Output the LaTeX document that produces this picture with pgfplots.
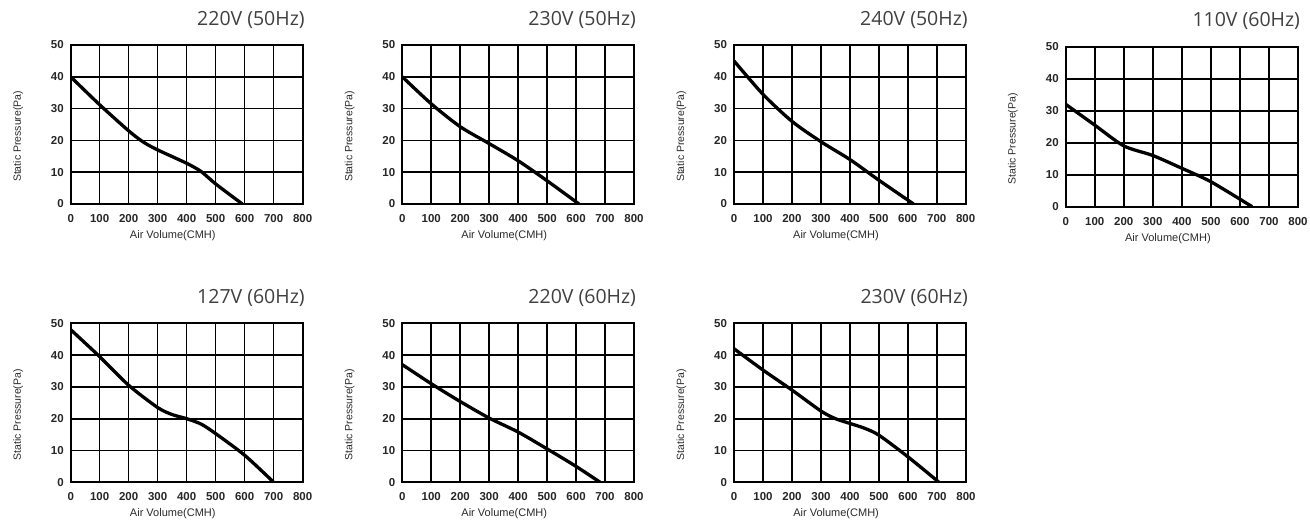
\documentclass[border=0pt]{standalone}
\usepackage{fontspec}
\setmainfont{Liberation Sans}
\newfontfamily\titlefont{Open Sans}
\usepackage{pgfplots}
\pgfplotsset{compat=1.18}
\definecolor{titlegray}{HTML}{404040}
\definecolor{labgray}{HTML}{2a2a2a}
\pgfplotsset{
  fanplot/.style={
    scale only axis,
    width=232pt, height=159pt,
    anchor=south west,
    xmin=0, xmax=800, ymin=0, ymax=50,
    xtick={0,100,...,800}, ytick={0,10,...,50},
    grid=major,
    major grid style={black, line width=1.6pt},
    axis line style={black, line width=1.7pt},
    major tick length=0pt,
    /pgf/number format/assume math mode=true,
    ticklabel style={font=\fontsize{11.5}{11.5}\selectfont\bfseries, text=black!85},
    yticklabel style={xshift=-3.5pt},
    xticklabel style={yshift=-7pt},
    xlabel={Air Volume(CMH)},
    ylabel={Static Pressure(Pa)},
    xlabel style={font=\fontsize{11}{11}\selectfont, text=labgray, at={(axis description cs:0.44,0)}, anchor=center, yshift=-31.5pt},
    ylabel style={font=\fontsize{10.5}{10.5}\selectfont, text=labgray, at={(axis description cs:-0.227,0.425)}, anchor=center},
    title style={font=\titlefont\fontsize{19.5}{19.5}\selectfont, text=titlegray, at={(axis description cs:1,1)}, anchor=base east, yshift=14pt, xshift=5.5pt},
    clip=true,
  },
  curve/.style={black, line width=3.3pt, smooth, tension=0.45},
}
\begin{document}
\begin{tikzpicture}[x=1pt,y=1pt]
\path[use as bounding box] (0,0) rectangle (1310,-524);

\begin{axis}[fanplot, at={(70.7pt,-204pt)}, title={220V (50Hz)}]
\addplot[curve] coordinates {(0,40) (100,31.2) (200,23) (250,19.5) (300,17) (400,12.8) (450,10.2) (500,6.3) (592,0)};
\end{axis}

\begin{axis}[fanplot, at={(402.3pt,-204pt)}, width=231.7pt, title={230V (50Hz)}]
\addplot[curve] coordinates {(0,40) (100,31.5) (200,24.3) (300,19) (400,13.6) (500,7.3) (610,0)};
\end{axis}

\begin{axis}[fanplot, at={(734pt,-204pt)}, width=231.7pt, title={240V (50Hz)}]
\addplot[curve] coordinates {(0,45) (100,34.5) (200,26) (300,19.6) (400,14) (500,7.5) (620,0)};
\end{axis}

\begin{axis}[fanplot, at={(1065.7pt,-206.7pt)}, width=232.3pt, height=160pt, title={110V (60Hz)}]
\addplot[curve] coordinates {(0,32) (100,25.5) (200,19) (300,16) (400,12) (500,7.8) (642,0)};
\end{axis}

\begin{axis}[fanplot, at={(70.7pt,-482.3pt)}, title={127V (60Hz)}]
\addplot[curve] coordinates {(0,48) (100,39.5) (200,30.5) (300,23.5) (350,21.3) (400,20) (450,18.3) (500,15.3) (600,8.5) (700,0)};
\end{axis}

\begin{axis}[fanplot, at={(402.3pt,-482.3pt)}, width=231.7pt, title={220V (60Hz)}]
\addplot[curve] coordinates {(0,37) (100,31) (200,25.4) (300,20.2) (400,15.8) (500,10.5) (600,5) (683,0)};
\end{axis}

\begin{axis}[fanplot, at={(734pt,-482.3pt)}, title={230V (60Hz)}]
\addplot[curve] coordinates {(0,42) (100,35.3) (200,29) (300,22.4) (350,20) (400,18.5) (450,17) (500,14.8) (600,8) (707,0)};
\end{axis}

\end{tikzpicture}
\end{document}
